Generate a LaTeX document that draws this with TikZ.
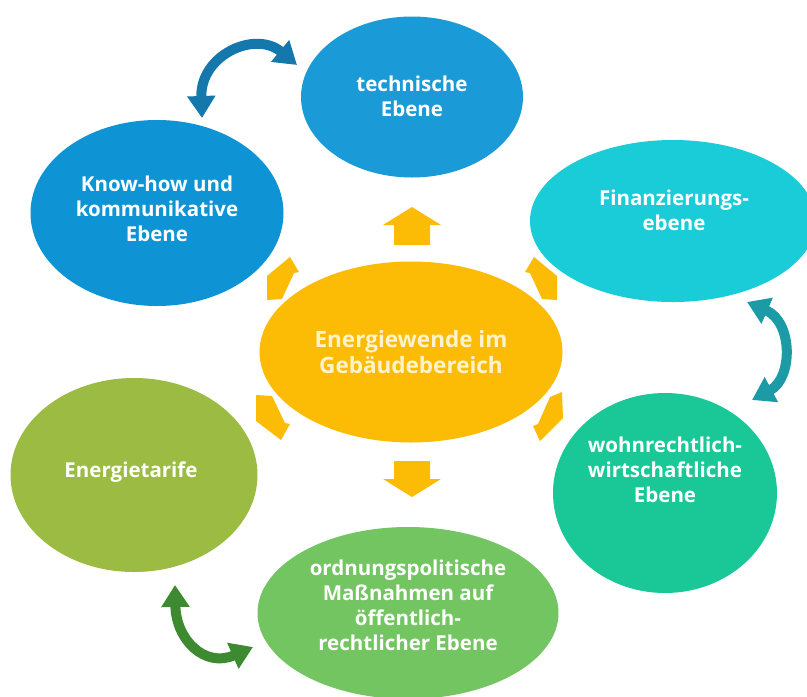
\documentclass[tikz,border=0pt]{standalone}
\usepackage{fontspec}
\setmainfont{Open Sans}
\usetikzlibrary{shapes.geometric,arrows.meta}

% fill colours of the levels
\definecolor{techblue}{HTML}{1A9BD7}
\definecolor{knowblue}{HTML}{0E94D4}
\definecolor{fincyan}{HTML}{19CCD8}
\definecolor{sun}{HTML}{FCBB04}
\definecolor{tarifgreen}{HTML}{9BBB43}
\definecolor{wohnmint}{HTML}{19C896}
\definecolor{ordgreen}{HTML}{73C562}
\definecolor{linkblue}{HTML}{1478AD}
\definecolor{linkteal}{HTML}{1C9AA6}
\definecolor{linkgreen}{HTML}{3D8A30}
\definecolor{cream}{HTML}{FFF3CC}

\begin{document}
\begin{tikzpicture}[x=1pt,y=-1pt,
  bubble/.style={ellipse, inner sep=0pt, draw=none},
  lbl/.style={text=white, font=\bfseries\fontsize{20.5}{25}\selectfont,
               align=center, inner sep=0pt},
  hublbl/.style={text=cream, font=\bfseries\fontsize{22.5}{26}\selectfont,
               align=center, inner sep=0pt},
  twoway/.style={line width=10pt, fill=none,
               {Triangle[width=27pt,length=22pt]}-{Triangle[width=27pt,length=22pt]}},
  blockarrow/.style={fill=sun, draw=none}
]
\clip (0,0) rectangle (807,697);
\fill[white] (0,0) rectangle (807,697);

% the six levels around the hub
\node[bubble, fill=techblue,  minimum width=222pt, minimum height=161pt] (tech) at (412,97)  {};
\node[bubble, fill=knowblue,  minimum width=253pt, minimum height=186pt] (know) at (157,213) {};
\node[bubble, fill=fincyan,   minimum width=286pt, minimum height=162pt] (fin)  at (673,221) {};
\node[bubble, fill=tarifgreen,minimum width=247pt, minimum height=194pt] (tarif) at (134,475) {};
\node[bubble, fill=wohnmint,  minimum width=224pt, minimum height=200pt] (wohn) at (665,493) {};
\node[bubble, fill=ordgreen,  minimum width=301pt, minimum height=172pt] (ord)  at (408,613) {};
\node[bubble, fill=sun,       minimum width=303pt, minimum height=181pt] (hub)  at (411,352) {};

% texts
\node[lbl]    (techtxt)  at (412,96)  {technische\\Ebene};
\node[lbl]    (knowtxt)  at (157,209) {Know-how und\\kommunikative\\Ebene};
\node[lbl]    (fintxt)   at (674,210) {Finanzierungs-\\ebene};
\node[lbl]    (tariftxt) at (131,472) {Energietarife};
\node[lbl]    (wohntxt)  at (665,470) {wohnrechtlich-\\wirtschaftliche\\Ebene};
\node[lbl]    (ordtxt)   at (408,605) {ordnungspolitische\\Maßnahmen auf\\öffentlich-\\rechtlicher Ebene};
\node[hublbl] (hubtxt)   at (411,352) {Energiewende im\\Gebäudebereich};

% block arrows leaving the hub
\fill[blockarrow] (412,207) -- (441,225) -- (430,225) -- (430,245) -- (394,245) -- (394,225) -- (383,225) -- cycle;
\fill[blockarrow] (412,497) -- (441,479) -- (430,479) -- (430,461) -- (394,461) -- (394,479) -- (383,479) -- cycle;
\fill[blockarrow] (290,257) -- (299,272) -- (294,273) -- (282,299) -- (267,300) -- (267,276) -- cycle;
\fill[blockarrow] (534,257) -- (525,272) -- (530,273) -- (542,299) -- (557,300) -- (557,276) -- cycle;
\fill[blockarrow] (281,440) -- (290,424) -- (285,423) -- (272,396) -- (256,395) -- (256,421) -- cycle;
\fill[blockarrow] (540,441) -- (533,426) -- (538,424) -- (550,397) -- (562,392) -- (563,418) -- cycle;

% curved two-way links between neighbouring levels
\coordinate (l1a) at (202,118);
\coordinate (l1b) at (297,65);
\coordinate (l2a) at (747,302);
\coordinate (l2b) at (752,400);
\coordinate (l3a) at (175,585);
\coordinate (l3b) at (253,647);
\draw[twoway, draw=linkblue]  (l1a) .. controls (200,55)  and (255,30)  .. (l1b);
\draw[twoway, draw=linkteal]  (l2a) .. controls (793,322) and (793,378) .. (l2b);
\draw[twoway, draw=linkgreen] (l3a) .. controls (176,640) and (205,668) .. (l3b);
\end{tikzpicture}
\end{document}
